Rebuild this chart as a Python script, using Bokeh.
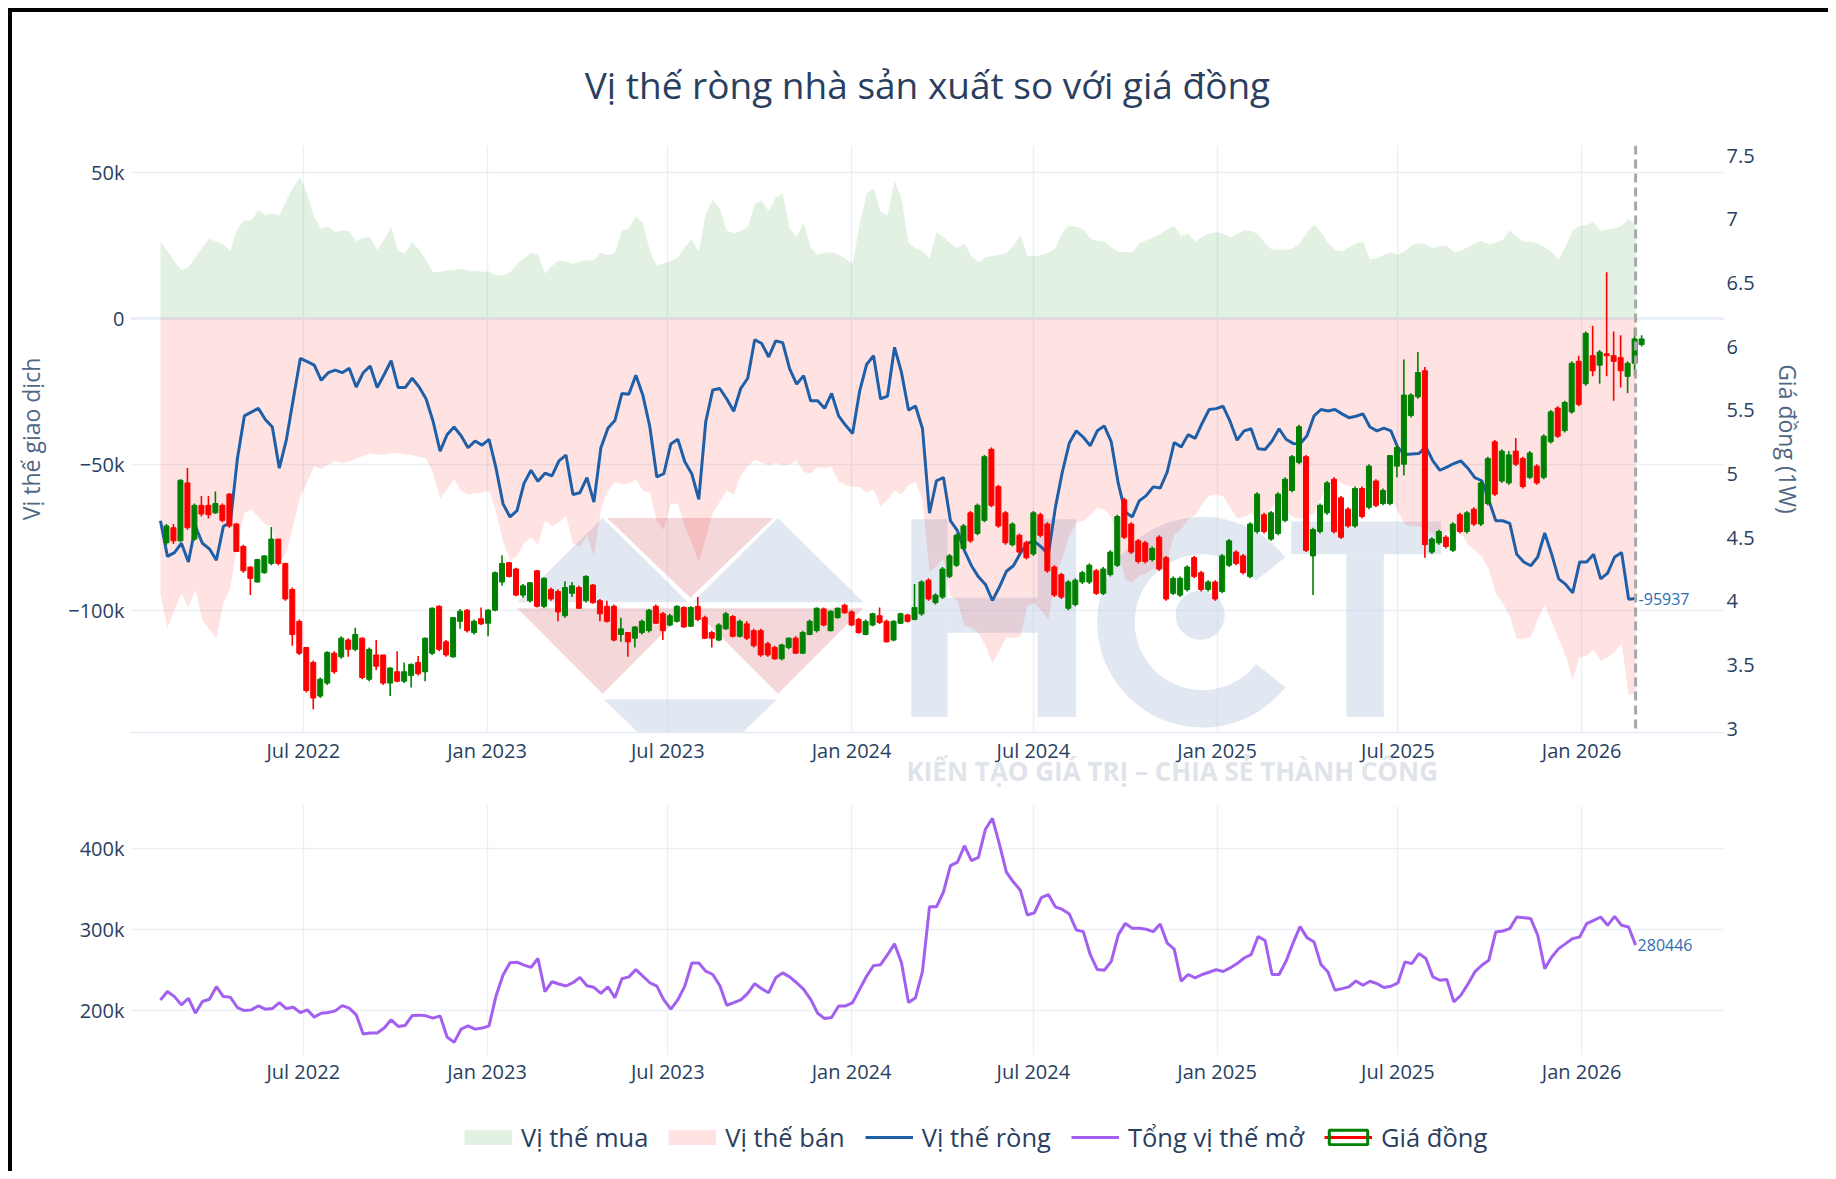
import numpy as np
import pandas as pd
from bokeh.plotting import figure
from bokeh.models import (ColumnDataSource, Range1d, LinearAxis, FixedTicker,
                          MonthsTicker, DatetimeTickFormatter, Span, Legend,
                          LegendItem, PolyAnnotation, Title)
from bokeh.layouts import column
from bokeh.embed import file_html
from bokeh.resources import INLINE
from bokeh.core.properties import value

# ---------------- data (weekly COT, thousands of contracts) ----------------
long_k = [26.3, 23.1, 19.6, 16.6, 17.6, 20.9, 24.4, 27.3, 26.3, 25.3,
          23.1, 30.8, 33.4, 33.6, 37.0, 35.3, 35.9, 35.3, 40.4, 44.9,
          48.4, 42.3, 34.6, 30.8, 31.4, 29.5, 30.2, 29.8, 26.3, 27.6,
          27.8, 23.5, 26.9, 31.4, 23.1, 22.2, 26.3, 23.5, 19.9, 15.8,
          16.0, 16.5, 16.5, 17.1, 16.3, 16.3, 16.0, 16.0, 14.8, 14.8,
          15.8, 18.6, 20.5, 22.5, 21.8, 15.4, 18.0, 19.9, 19.5, 18.6,
          19.6, 19.9, 19.9, 22.5, 21.7, 22.5, 29.9, 30.8, 35.0, 32.7,
          23.1, 18.0, 19.0, 19.6, 20.9, 24.4, 27.3, 22.7, 35.9, 40.7,
          37.6, 30.2, 29.1, 29.9, 31.4, 39.1, 40.4, 36.6, 41.4, 42.7,
          30.8, 27.8, 32.7, 24.4, 21.8, 22.5, 22.7, 21.7, 20.5, 18.6,
          32.1, 42.7, 44.6, 36.6, 35.3, 47.1, 41.1, 25.7, 24.2, 23.1,
          20.5, 29.5, 27.8, 25.7, 24.0, 25.7, 21.2, 19.2, 20.9, 21.4,
          21.8, 22.5, 24.8, 28.6, 21.4, 21.2, 21.7, 22.5, 24.0, 29.5,
          31.7, 31.4, 30.5, 27.3, 26.6, 26.3, 24.4, 22.8, 22.7, 22.5,
          25.7, 26.7, 27.8, 28.9, 30.4, 31.7, 28.2, 29.1, 26.3, 27.8,
          29.1, 29.5, 29.1, 27.8, 28.9, 30.2, 29.9, 28.9, 25.7, 23.5,
          23.5, 23.5, 24.0, 25.7, 29.5, 32.1, 29.5, 26.0, 23.5, 22.8,
          24.4, 25.7, 26.3, 20.1, 20.7, 21.8, 22.7, 21.8, 23.1, 25.0,
          25.7, 25.4, 24.0, 24.8, 25.0, 22.7, 23.2, 24.4, 25.7, 26.6,
          25.3, 26.0, 26.9, 30.2, 27.8, 26.3, 26.3, 25.7, 24.4, 22.7,
          20.1, 24.8, 30.2, 31.7, 32.1, 33.0, 29.9, 30.5, 30.9, 31.7,
          34.0, 32.1]

short_k = [-94.3, -106.0, -100.0, -94.3, -98.8, -93.0, -103.3, -106.5, -109.7, -97.5,
           -92.4, -77.0, -66.7, -65.4, -68.0, -70.6, -71.2, -84.0, -80.0, -71.0,
           -61.0, -56.0, -50.7, -51.7, -50.0, -48.8, -49.4, -49.1, -48.1, -47.1,
           -46.2, -46.8, -46.6, -46.2, -46.2, -46.6, -46.8, -47.5, -47.9, -53.2,
           -61.6, -58.4, -55.2, -59.0, -60.3, -59.9, -59.7, -59.0, -66.1, -76.3,
           -82.8, -81.5, -77.0, -75.0, -77.6, -69.3, -71.2, -69.9, -67.6, -77.0,
           -78.3, -74.4, -81.5, -65.4, -59.0, -56.1, -56.8, -56.5, -55.2, -59.0,
           -59.7, -69.3, -72.5, -63.5, -63.5, -71.2, -77.0, -83.4, -75.0, -66.7,
           -62.9, -59.0, -60.3, -53.9, -50.7, -48.4, -49.4, -50.4, -49.4, -50.4,
           -50.0, -48.8, -52.6, -53.2, -50.9, -51.3, -50.7, -55.8, -57.1, -57.7,
           -57.7, -59.7, -58.4, -64.2, -62.2, -59.0, -60.3, -57.1, -56.0, -62.2,
           -87.0, -85.0, -82.3, -95.0, -96.7, -105.2, -105.9, -107.7, -112.0, -118.0,
           -113.8, -109.1, -109.5, -109.0, -98.4, -97.5, -100.0, -103.3, -88.8, -82.1,
           -74.4, -69.9, -69.3, -67.4, -64.8, -65.4, -68.0, -78.9, -89.4, -90.5,
           -88.0, -87.4, -85.5, -87.0, -83.0, -74.2, -72.2, -68.9, -67.4, -63.7,
           -60.7, -60.3, -60.9, -64.8, -68.4, -68.0, -66.7, -70.0, -69.0, -64.2,
           -63.0, -66.0, -68.0, -68.6, -68.0, -66.7, -61.6, -57.7, -55.2, -56.5,
           -57.5, -58.1, -59.7, -58.0, -59.2, -59.4, -61.2, -66.1, -70.6, -71.2,
           -71.2, -72.5, -73.8, -76.8, -73.1, -72.5, -73.1, -77.6, -79.5, -81.5,
           -86.0, -94.3, -97.5, -102.0, -109.7, -109.7, -109.0, -103.3, -98.1, -104.0,
           -109.7, -115.5, -123.8, -116.1, -115.5, -113.5, -117.4, -116.1, -114.2, -111.2,
           -129.0, -128.5]

net_k = [-69.3, -81.5, -80.2, -77.0, -83.4, -71.2, -77.0, -78.9, -82.8, -71.2,
         -69.9, -48.1, -33.4, -32.1, -30.8, -34.6, -37.2, -51.3, -41.7, -27.6,
         -13.7, -14.8, -16.0, -21.2, -18.6, -17.7, -18.6, -17.1, -23.5, -18.6,
         -16.3, -23.7, -19.2, -14.5, -23.7, -23.7, -20.5, -23.5, -27.6, -35.3,
         -45.5, -39.8, -37.2, -40.2, -44.3, -42.0, -43.4, -41.4, -51.3, -63.5,
         -68.0, -65.8, -56.5, -52.0, -55.8, -53.0, -53.9, -48.8, -46.8, -60.3,
         -59.7, -54.5, -62.9, -44.3, -37.6, -35.0, -25.7, -26.0, -19.5, -26.3,
         -37.2, -54.3, -53.2, -43.0, -41.4, -49.1, -53.2, -62.0, -35.3, -24.5,
         -24.0, -27.6, -31.8, -24.0, -20.5, -7.3, -8.6, -13.2, -7.7, -8.3,
         -17.3, -22.5, -19.6, -28.2, -28.2, -30.8, -25.7, -33.4, -36.6, -39.4,
         -25.0, -15.8, -12.8, -27.6, -26.6, -9.9, -18.6, -31.4, -30.0, -37.8,
         -66.7, -55.6, -54.5, -69.3, -72.7, -79.5, -84.7, -88.5, -91.1, -96.6,
         -92.0, -86.6, -84.7, -80.4, -77.0, -76.3, -78.3, -80.8, -64.8, -52.6,
         -42.7, -38.5, -40.7, -43.6, -38.5, -36.8, -42.3, -56.5, -66.3, -68.0,
         -62.5, -60.7, -57.7, -58.1, -52.6, -42.5, -44.0, -39.8, -41.1, -35.9,
         -31.2, -30.9, -30.1, -35.3, -41.7, -38.5, -37.8, -44.6, -44.9, -42.0,
         -37.8, -41.4, -42.8, -43.0, -40.2, -33.4, -31.2, -31.7, -31.2, -32.7,
         -34.0, -33.5, -32.7, -37.2, -38.5, -37.6, -38.5, -44.3, -46.6, -46.4,
         -46.3, -44.0, -48.8, -52.0, -50.9, -49.7, -48.8, -51.3, -54.5, -55.6,
         -62.2, -69.3, -69.3, -70.2, -80.8, -83.4, -84.7, -81.7, -73.5, -80.8,
         -89.2, -91.1, -94.0, -83.4, -83.4, -80.8, -89.2, -87.2, -81.7, -80.2,
         -96.2, -95.937]

oi_k = [212.7, 223.0, 216.8, 206.6, 214.8, 196.3, 210.7, 213.5, 229.0, 216.8,
        216.0, 203.3, 199.6, 200.4, 205.3, 201.2, 202.0, 209.4, 202.0, 203.7,
        197.1, 200.4, 191.4, 196.3, 197.1, 199.2, 205.7, 202.5, 194.3, 170.5,
        171.7, 171.7, 177.9, 188.1, 179.9, 181.1, 193.4, 193.9, 193.0, 190.2,
        193.0, 166.8, 160.2, 176.6, 180.7, 176.6, 177.9, 180.7, 217.6, 243.4,
        258.6, 259.4, 255.7, 252.9, 263.9, 223.0, 235.2, 232.4, 229.9, 234.0,
        240.6, 230.3, 228.3, 220.9, 229.0, 215.5, 238.8, 241.2, 250.2, 242.0,
        233.9, 229.8, 212.7, 201.2, 212.7, 229.8, 258.4, 258.4, 248.2, 244.1,
        230.6, 206.1, 209.4, 212.7, 220.8, 232.7, 226.5, 221.6, 240.0, 246.1,
        241.2, 233.9, 225.7, 213.5, 196.3, 189.8, 191.0, 205.3, 205.3, 209.4,
        225.7, 242.0, 255.1, 256.3, 268.6, 282.0, 258.4, 209.4, 215.5, 248.2,
        327.8, 327.8, 346.1, 378.8, 382.9, 403.3, 384.9, 389.0, 423.7, 437.1,
        405.3, 370.6, 358.4, 348.2, 317.6, 320.4, 339.2, 342.9, 327.8, 324.5,
        318.8, 299.2, 297.1, 268.6, 250.2, 249.4, 260.4, 293.1, 307.3, 301.2,
        301.2, 300.0, 297.1, 306.5, 282.9, 275.5, 235.9, 244.1, 240.0, 244.1,
        246.9, 250.2, 247.8, 252.2, 257.6, 264.5, 268.6, 291.0, 286.1, 244.1,
        244.1, 260.4, 282.9, 303.3, 289.7, 284.4, 256.4, 247.3, 224.7, 226.7,
        228.8, 236.2, 230.9, 235.8, 232.9, 228.0, 229.6, 233.7, 259.7, 257.6,
        270.0, 263.8, 241.2, 237.0, 237.9, 210.3, 218.5, 232.1, 247.3, 255.6,
        261.7, 296.7, 297.9, 300.8, 315.2, 314.4, 313.2, 292.6, 251.4, 265.8,
        276.1, 282.3, 288.5, 290.5, 307.0, 311.1, 315.2, 304.9, 316.0, 304.9,
        302.9, 280.446]

# weekly copper price candles (USD/lb)
open_ = [4.460, 4.578, 4.475, 4.930, 4.489, 4.754, 4.754, 4.695, 4.754, 4.842,
         4.607, 4.431, 4.269, 4.152, 4.225, 4.298, 4.489, 4.298, 4.093, 3.843,
         3.637, 3.520, 3.256, 3.358, 3.593, 3.564, 3.696, 3.623, 3.711, 3.388,
         3.579, 3.579, 3.358, 3.447, 3.373, 3.417, 3.520, 3.447, 3.593, 3.961,
         3.682, 3.564, 3.843, 3.931, 3.755, 3.864, 3.828, 3.931, 4.152, 4.304,
         4.254, 4.049, 4.005, 4.240, 3.961, 4.093, 4.078, 3.887, 4.063, 4.108,
         4.005, 4.128, 4.005, 3.961, 3.961, 3.740, 3.755, 3.711, 3.755, 3.770,
         3.961, 3.902, 3.814, 3.843, 3.952, 3.805, 3.961, 3.872, 3.755, 3.696,
         3.784, 3.881, 3.726, 3.823, 3.770, 3.770, 3.667, 3.637, 3.549, 3.637,
         3.711, 3.593, 3.740, 3.770, 3.940, 3.770, 3.872, 3.969, 3.917, 3.858,
         3.740, 3.814, 3.887, 3.843, 3.696, 3.828, 3.893, 3.858, 3.902, 4.166,
         3.990, 4.034, 4.196, 4.284, 4.416, 4.695, 4.533, 4.636, 5.194, 4.901,
         4.695, 4.445, 4.519, 4.460, 4.372, 4.680, 4.607, 4.269, 4.210, 3.946,
         3.975, 4.152, 4.152, 4.240, 4.063, 4.210, 4.284, 4.798, 4.607, 4.475,
         4.460, 4.328, 4.504, 4.343, 4.063, 4.049, 4.093, 4.343, 4.225, 4.093,
         4.152, 4.078, 4.284, 4.387, 4.357, 4.196, 4.548, 4.680, 4.489, 4.533,
         4.636, 4.871, 5.092, 5.136, 4.357, 4.548, 4.695, 4.959, 4.813, 4.724,
         4.592, 4.886, 4.739, 4.945, 4.768, 4.768, 5.062, 5.077, 5.459, 5.606,
         5.811, 4.387, 4.460, 4.504, 4.401, 4.680, 4.548, 4.724, 4.607, 4.768,
         5.253, 4.945, 4.930, 5.180, 5.121, 4.974, 5.062, 4.974, 5.253, 5.518,
         5.341, 5.488, 5.885, 5.709, 5.929, 5.855, 5.944, 5.929, 5.914, 5.767,
         5.870, 6.017]
high_ = [4.607, 4.607, 4.959, 5.048, 4.768, 4.827, 4.827, 4.862, 4.768, 4.851,
         4.616, 4.445, 4.275, 4.334, 4.363, 4.583, 4.489, 4.298, 4.108, 3.858,
         3.637, 3.535, 3.402, 3.608, 3.608, 3.726, 3.711, 3.793, 3.717, 3.637,
         3.696, 3.579, 3.482, 3.608, 3.520, 3.511, 3.570, 3.717, 3.952, 3.969,
         3.696, 3.872, 3.940, 3.940, 3.858, 3.952, 3.940, 4.234, 4.363, 4.310,
         4.263, 4.137, 4.152, 4.246, 4.187, 4.108, 4.093, 4.157, 4.152, 4.122,
         4.204, 4.137, 4.019, 4.005, 3.975, 3.872, 3.755, 3.805, 3.858, 3.940,
         3.975, 3.917, 3.902, 3.969, 3.961, 3.961, 4.034, 3.887, 3.770, 3.828,
         3.917, 3.893, 3.858, 3.843, 3.784, 3.784, 3.682, 3.652, 3.667, 3.717,
         3.726, 3.770, 3.858, 3.952, 3.952, 3.931, 3.952, 3.981, 3.931, 3.872,
         3.858, 3.911, 3.952, 3.858, 3.852, 3.911, 3.902, 4.137, 4.166, 4.181,
         4.063, 4.269, 4.372, 4.533, 4.607, 4.710, 4.768, 5.150, 5.209, 4.915,
         4.710, 4.622, 4.533, 4.475, 4.710, 4.695, 4.622, 4.284, 4.225, 4.166,
         4.181, 4.240, 4.298, 4.254, 4.269, 4.401, 4.680, 4.813, 4.622, 4.489,
         4.475, 4.431, 4.519, 4.357, 4.196, 4.196, 4.284, 4.357, 4.240, 4.166,
         4.166, 4.372, 4.489, 4.401, 4.372, 4.622, 4.857, 4.695, 4.710, 4.857,
         4.974, 5.150, 5.386, 5.150, 4.578, 4.768, 4.945, 4.974, 4.827, 4.739,
         4.901, 4.901, 5.077, 4.959, 4.886, 5.150, 5.224, 5.900, 5.635, 5.958,
         5.841, 4.504, 4.563, 4.519, 4.622, 4.695, 4.710, 4.739, 4.945, 5.136,
         5.268, 5.194, 5.180, 5.283, 5.136, 5.180, 5.077, 5.312, 5.503, 5.532,
         5.576, 5.885, 5.929, 6.120, 6.164, 5.973, 6.584, 6.120, 6.090, 5.885,
         6.149, 6.090]
low_ = [4.445, 4.451, 4.469, 4.563, 4.475, 4.666, 4.651, 4.686, 4.622, 4.578,
        4.387, 4.225, 4.049, 4.146, 4.216, 4.284, 4.284, 4.005, 3.652, 3.579,
        3.285, 3.153, 3.241, 3.344, 3.432, 3.549, 3.564, 3.608, 3.388, 3.373,
        3.461, 3.344, 3.256, 3.364, 3.358, 3.323, 3.417, 3.373, 3.579, 3.608,
        3.564, 3.558, 3.784, 3.755, 3.740, 3.814, 3.726, 3.922, 4.122, 4.187,
        4.040, 4.028, 3.990, 3.952, 3.946, 4.005, 3.843, 3.872, 4.034, 3.940,
        3.990, 3.981, 3.843, 3.834, 3.687, 3.682, 3.564, 3.637, 3.740, 3.755,
        3.823, 3.696, 3.805, 3.834, 3.793, 3.799, 3.843, 3.705, 3.637, 3.687,
        3.776, 3.717, 3.717, 3.696, 3.637, 3.564, 3.564, 3.541, 3.535, 3.623,
        3.588, 3.588, 3.734, 3.755, 3.805, 3.764, 3.864, 3.902, 3.805, 3.746,
        3.734, 3.805, 3.823, 3.676, 3.687, 3.823, 3.834, 3.852, 3.887, 4.005,
        3.975, 4.019, 4.181, 4.269, 4.401, 4.460, 4.519, 4.622, 4.739, 4.578,
        4.445, 4.431, 4.372, 4.328, 4.357, 4.504, 4.225, 4.034, 4.019, 3.931,
        3.961, 4.137, 4.137, 4.049, 4.049, 4.196, 4.269, 4.489, 4.372, 4.298,
        4.298, 4.313, 4.240, 4.005, 4.049, 4.034, 4.078, 4.181, 4.078, 4.078,
        4.005, 4.063, 4.269, 4.284, 4.210, 4.181, 4.533, 4.533, 4.475, 4.519,
        4.622, 4.857, 5.077, 4.387, 4.049, 4.533, 4.680, 4.533, 4.489, 4.578,
        4.578, 4.651, 4.724, 4.739, 4.754, 4.754, 4.974, 4.989, 5.444, 5.591,
        4.343, 4.372, 4.445, 4.416, 4.387, 4.533, 4.533, 4.592, 4.592, 4.754,
        4.827, 4.930, 4.915, 5.062, 4.886, 4.959, 4.915, 4.959, 5.239, 5.283,
        5.327, 5.474, 5.532, 5.694, 5.767, 5.709, 5.767, 5.576, 5.679, 5.635,
        5.767, 6.002]
close_ = [4.592, 4.475, 4.951, 4.578, 4.754, 4.686, 4.680, 4.768, 4.636, 4.592,
          4.392, 4.240, 4.181, 4.328, 4.357, 4.489, 4.298, 4.019, 3.740, 3.593,
          3.300, 3.241, 3.388, 3.599, 3.447, 3.711, 3.623, 3.740, 3.402, 3.623,
          3.491, 3.358, 3.476, 3.373, 3.447, 3.505, 3.432, 3.711, 3.946, 3.623,
          3.579, 3.872, 3.922, 3.770, 3.843, 3.823, 3.931, 4.225, 4.298, 4.196,
          4.049, 4.122, 4.146, 3.961, 4.181, 4.019, 3.917, 4.108, 4.122, 3.946,
          4.196, 3.990, 3.902, 3.843, 3.696, 3.784, 3.682, 3.799, 3.843, 3.931,
          3.828, 3.770, 3.887, 3.961, 3.799, 3.952, 3.858, 3.711, 3.711, 3.814,
          3.902, 3.726, 3.843, 3.711, 3.652, 3.579, 3.579, 3.549, 3.658, 3.711,
          3.593, 3.755, 3.843, 3.946, 3.814, 3.922, 3.946, 3.911, 3.814, 3.755,
          3.843, 3.902, 3.834, 3.682, 3.843, 3.902, 3.843, 3.952, 4.152, 4.019,
          4.049, 4.254, 4.357, 4.519, 4.592, 4.475, 4.754, 5.136, 4.754, 4.592,
          4.460, 4.607, 4.387, 4.343, 4.695, 4.519, 4.240, 4.049, 4.034, 4.152,
          4.166, 4.225, 4.284, 4.063, 4.254, 4.387, 4.666, 4.504, 4.387, 4.313,
          4.313, 4.416, 4.254, 4.019, 4.181, 4.181, 4.269, 4.196, 4.093, 4.152,
          4.019, 4.357, 4.475, 4.298, 4.225, 4.607, 4.842, 4.548, 4.695, 4.842,
          4.959, 5.136, 5.371, 4.401, 4.563, 4.754, 4.930, 4.548, 4.504, 4.592,
          4.886, 4.666, 5.062, 4.754, 4.871, 5.145, 5.209, 5.620, 5.620, 5.797,
          4.445, 4.489, 4.548, 4.431, 4.607, 4.548, 4.695, 4.607, 4.930, 5.121,
          4.842, 5.180, 5.150, 5.077, 4.901, 5.165, 4.930, 5.297, 5.488, 5.297,
          5.562, 5.870, 5.547, 6.105, 5.811, 5.958, 5.929, 5.885, 5.811, 5.870,
          6.061, 6.061]

# axis tick values / labels
left_ticks = [-100000, -50000, 0, 50000]
left_labels = ["\u2212100k", "\u221250k", "0", "50k"]
price_ticks = [3, 3.5, 4, 4.5, 5, 5.5, 6, 6.5, 7, 7.5]
price_labels = ["3", "3.5", "4", "4.5", "5", "5.5", "6", "6.5", "7", "7.5"]
oi_ticks = [200000, 300000, 400000]
oi_labels = ["200k", "300k", "400k"]

cot_dates = pd.date_range("2022-02-08", periods=len(net_k), freq="7D")
candle_dates = pd.date_range("2022-02-14", periods=len(close_), freq="7D")

long_pos = [round(v * 1000) for v in long_k]
short_pos = [round(v * 1000) for v in short_k]
net_pos = [round(v * 1000) for v in net_k]
oi_pos = [round(v * 1000) for v in oi_k]

# ---------------- style ----------------
FONT = "Open Sans"
TXT = "#2a3f5f"
AXT = "#506784"
GRID = "#ebf0f8"
NET_C = "#1f5fa8"
OI_C = "#a35ff0"
UP = "#008000"
DN = "#ff0000"
LONG_KEY = "#e3f1e3"
SHORT_KEY = "#ffe3e3"
LBL_C = "#2f6db0"
WM_BLUE = "#b7c9e0"
WM_PINK = "#e3a0a4"
DAY = 86400000

x_start = pd.Timestamp("2022-01-09")
x_end = pd.Timestamp("2026-05-24")
xr = Range1d(x_start, x_end)
Y_TOP, Y_BOT = 59200, -141800
PRICE_LO, PRICE_HI = 2.97, 7.58
OI_LO, OI_HI = 144000, 453000

# ---------------- top panel ----------------
p1 = figure(width=1816, height=780, x_axis_type="datetime", x_range=xr,
            y_range=Range1d(Y_BOT, Y_TOP), output_backend="svg",
            toolbar_location=None, min_border_left=116, min_border_right=104,
            min_border_top=133, min_border_bottom=60)
p1.extra_y_ranges = {"price": Range1d(PRICE_LO, PRICE_HI)}

# --- faint "HCT" watermark (decoration, placed in page pixels) ---
xs_ms = x_start.value / 1e6
xe_ms = x_end.value / 1e6


def wm(pts):
    xs, ys = [], []
    for sx, sy in pts:
        fx, fy = sx * 1.1709, sy * 1.1709
        xs.append(xs_ms + (fx - 128) / 1596 * (xe_ms - xs_ms))
        ys.append(Y_TOP - (fy - 145) / 587 * (Y_TOP - Y_BOT))
    return xs, ys


def rect(x0, y0, x1, y1):
    return [(x0, y0), (x1, y0), (x1, y1), (x0, y1)]


ang_out = np.linspace(np.radians(38), np.radians(322), 60)
ring = ([(1026 + 90 * np.cos(a), 531 - 90 * np.sin(a)) for a in ang_out] +
        [(1026 + 58 * np.cos(a), 531 - 58 * np.sin(a)) for a in ang_out[::-1]])
dot = [(1024 + 21 * np.cos(a), 525 - 21 * np.sin(a))
       for a in np.linspace(0, 2 * np.pi, 40)]
wm_shapes = [
    (rect(777, 443, 808, 612), WM_BLUE), (rect(885, 443, 918, 612), WM_BLUE),
    (rect(808, 510, 885, 540), WM_BLUE),
    (ring, WM_BLUE), (dot, WM_BLUE),
    (rect(1102, 445, 1230, 473), WM_BLUE), (rect(1149, 473, 1181, 612), WM_BLUE),
    ([(440, 514), (513, 442), (586, 514)], WM_BLUE),
    ([(590, 514), (663, 442), (736, 514)], WM_BLUE),
    ([(517, 442), (659, 442), (588, 510)], WM_PINK),
    ([(440, 519), (586, 519), (513, 592)], WM_PINK),
    ([(590, 519), (736, 519), (663, 592)], WM_PINK),
    ([(514, 597), (662, 597), (588, 668)], WM_BLUE),
]
for pts, colr in wm_shapes:
    xs, ys = wm(pts)
    p1.add_layout(PolyAnnotation(xs=xs, ys=ys, fill_color=colr, fill_alpha=0.42,
                                 line_color=None, level="underlay"))

src = ColumnDataSource(dict(date=cot_dates, long=long_pos, short=short_pos,
                            net=net_pos))
r_long = p1.varea(x="date", y1=0, y2="long", source=src, fill_color=UP,
                  fill_alpha=0.11)
r_short = p1.varea(x="date", y1=0, y2="short", source=src, fill_color=DN,
                   fill_alpha=0.11)
p1.add_layout(Span(location=0, dimension="width", line_color=GRID,
                   line_width=3, level="underlay"))
r_net = p1.line(x="date", y="net", source=src, line_color=NET_C, line_width=3)

top = [max(o, c) for o, c in zip(open_, close_)]
bot = [min(o, c) for o, c in zip(open_, close_)]
col = [UP if c >= o else DN for o, c in zip(open_, close_)]
csrc = ColumnDataSource(dict(date=candle_dates, o=open_, h=high_, l=low_,
                             c=close_, top=top, bot=bot, color=col))
p1.segment(x0="date", y0="l", x1="date", y1="h", source=csrc,
           line_color="color", line_width=1.6, y_range_name="price")
p1.vbar(x="date", width=5 * DAY, top="top", bottom="bot", source=csrc,
        fill_color="color", line_color="color", line_width=1,
        y_range_name="price")

p1.add_layout(Span(location=cot_dates[-1].value / 1e6, dimension="height",
                   line_color="#a8a8a8", line_width=3, line_dash="9 5"))

p1.text(x=[cot_dates[-1]], y=[net_pos[-1]], text=[str(net_pos[-1])],
        text_font=value(FONT), text_font_size="16px", text_color=LBL_C,
        text_baseline="middle", text_align="left", x_offset=3)

p1.title.text = "Vị thế ròng nhà sản xuất so với giá đồng"
p1.title.align = "center"
p1.title.text_font = FONT
p1.title.text_font_size = "37px"
p1.title.text_font_style = "normal"
p1.title.text_color = TXT
p1.title.standoff = 71

slogan = Title(text="KIẾN TẠO GIÁ TRỊ – CHIA SẺ THÀNH CÔNG", align="left",
               offset=776, text_font=FONT, text_font_size="26px",
               text_font_style="bold", text_color="#dfe3ea", standoff=-44)
p1.add_layout(slogan, "below")

mt = MonthsTicker(months=[0, 6])
fmt = DatetimeTickFormatter(months="%b %Y", years="%b %Y", days="%b %Y")

p1.xaxis.ticker = mt
p1.xaxis.formatter = fmt
p1.xgrid.ticker = mt
p1.yaxis.ticker = FixedTicker(ticks=left_ticks)
p1.ygrid.ticker = FixedTicker(ticks=left_ticks)
p1.yaxis.major_label_overrides = dict(zip(left_ticks, left_labels))
p1.yaxis.axis_label = "Vị thế giao dịch"

ax_r = LinearAxis(y_range_name="price", ticker=FixedTicker(ticks=price_ticks),
                  axis_label="Giá đồng (1W)")
ax_r.major_label_overrides = dict(zip(price_ticks, price_labels))
p1.add_layout(ax_r, "right")

# ---------------- bottom panel ----------------
p2 = figure(width=1816, height=308, x_axis_type="datetime", x_range=xr,
            y_range=Range1d(OI_LO, OI_HI), output_backend="svg",
            toolbar_location=None, min_border_left=116, min_border_right=104,
            min_border_top=13, min_border_bottom=45)
osrc = ColumnDataSource(dict(date=cot_dates, oi=oi_pos))
r_oi = p2.line(x="date", y="oi", source=osrc, line_color=OI_C, line_width=3)
p2.text(x=[cot_dates[-1]], y=[oi_pos[-1]], text=[str(oi_pos[-1])],
        text_font=value(FONT), text_font_size="16px", text_color=LBL_C,
        text_baseline="middle", text_align="left", x_offset=2)

p2.xaxis.ticker = mt
p2.xaxis.formatter = fmt
p2.xgrid.ticker = mt
p2.yaxis.ticker = FixedTicker(ticks=oi_ticks)
p2.ygrid.ticker = FixedTicker(ticks=oi_ticks)
p2.yaxis.major_label_overrides = dict(zip(oi_ticks, oi_labels))

# ---------------- legend strip ----------------
# legend keys reuse the real sources; the strip's x window lies years after
# the data, so none of these marks is drawn inside the strip
p3 = figure(width=1816, height=71, x_axis_type="datetime",
            x_range=Range1d(x_end + pd.Timedelta(days=3650),
                            x_end + pd.Timedelta(days=4015)),
            y_range=Range1d(Y_BOT, Y_TOP), output_backend="svg",
            toolbar_location=None, x_axis_location=None,
            y_axis_location=None, min_border=0)
p3.extra_y_ranges = {"price": Range1d(PRICE_LO, PRICE_HI),
                     "oi": Range1d(OI_LO, OI_HI)}
p3.grid.visible = False
p3.outline_line_color = None
lg_long = p3.line(x="date", y="long", source=src, line_color=LONG_KEY,
                  line_width=15)
lg_short = p3.line(x="date", y="short", source=src, line_color=SHORT_KEY,
                   line_width=15)
lg_net = p3.line(x="date", y="net", source=src, line_color=NET_C, line_width=3)
lg_oi = p3.line(x="date", y="oi", source=osrc, line_color=OI_C, line_width=3,
                y_range_name="oi")
lg_box = p3.rect(x="date", y="c", width=5 * DAY, height=0.05, source=csrc,
                 fill_color=None, line_color=UP, line_width=3,
                 y_range_name="price")
lg_wick = p3.segment(x0="date", y0="c", x1="date", y1="c", source=csrc,
                     line_color=DN, line_width=3, y_range_name="price")

legend = Legend(items=[
    LegendItem(label="Vị thế mua", renderers=[lg_long]),
    LegendItem(label="Vị thế bán", renderers=[lg_short]),
    LegendItem(label="Vị thế ròng", renderers=[lg_net]),
    LegendItem(label="Tổng vị thế mở", renderers=[lg_oi]),
    LegendItem(label="Giá đồng", renderers=[lg_wick, lg_box]),
], orientation="horizontal", location=(334, 17))
legend.label_text_font = FONT
legend.label_text_font_size = "25.5px"
legend.label_text_color = TXT
legend.glyph_width = 48
legend.glyph_height = 18
legend.label_standoff = 9
legend.spacing = 20
legend.padding = 4
legend.margin = 0
legend.border_line_color = None
legend.background_fill_alpha = 0
p3.add_layout(legend)

# ---------------- common styling ----------------
for p in (p1, p2):
    p.outline_line_color = None
    p.background_fill_color = "white"
    p.border_fill_color = "white"
    p.xgrid.grid_line_color = GRID
    p.ygrid.grid_line_color = GRID
    p.xgrid.grid_line_width = 1.5
    p.ygrid.grid_line_width = 1.5
    for ax in p.axis:
        ax.major_tick_line_color = None
        ax.minor_tick_line_color = None
        ax.axis_line_color = None
        ax.major_label_text_font = FONT
        ax.major_label_text_font_size = "20px"
        ax.major_label_text_color = TXT
        ax.axis_label_text_font = FONT
        ax.axis_label_text_font_size = "23px"
        ax.axis_label_text_font_style = "normal"
        ax.axis_label_text_color = AXT
    p.yaxis.major_label_standoff = 0

p1.xaxis.major_label_standoff = -2
p2.xaxis.major_label_standoff = -4
p1.yaxis[0].axis_label_standoff = 18
ax_r.major_label_standoff = -4
ax_r.axis_label_standoff = 14
p1.xaxis.axis_line_color = "#e6ecf5"
p1.xaxis.axis_line_width = 1.5

layout = column(p1, p2, p3, margin=(8, 0, 0, 8),
                styles={"border-top": "4px solid black",
                        "border-left": "4px solid black"})

open("out.html", "w").write(file_html(layout, INLINE, "Vị thế ròng nhà sản xuất so với giá đồng"))
